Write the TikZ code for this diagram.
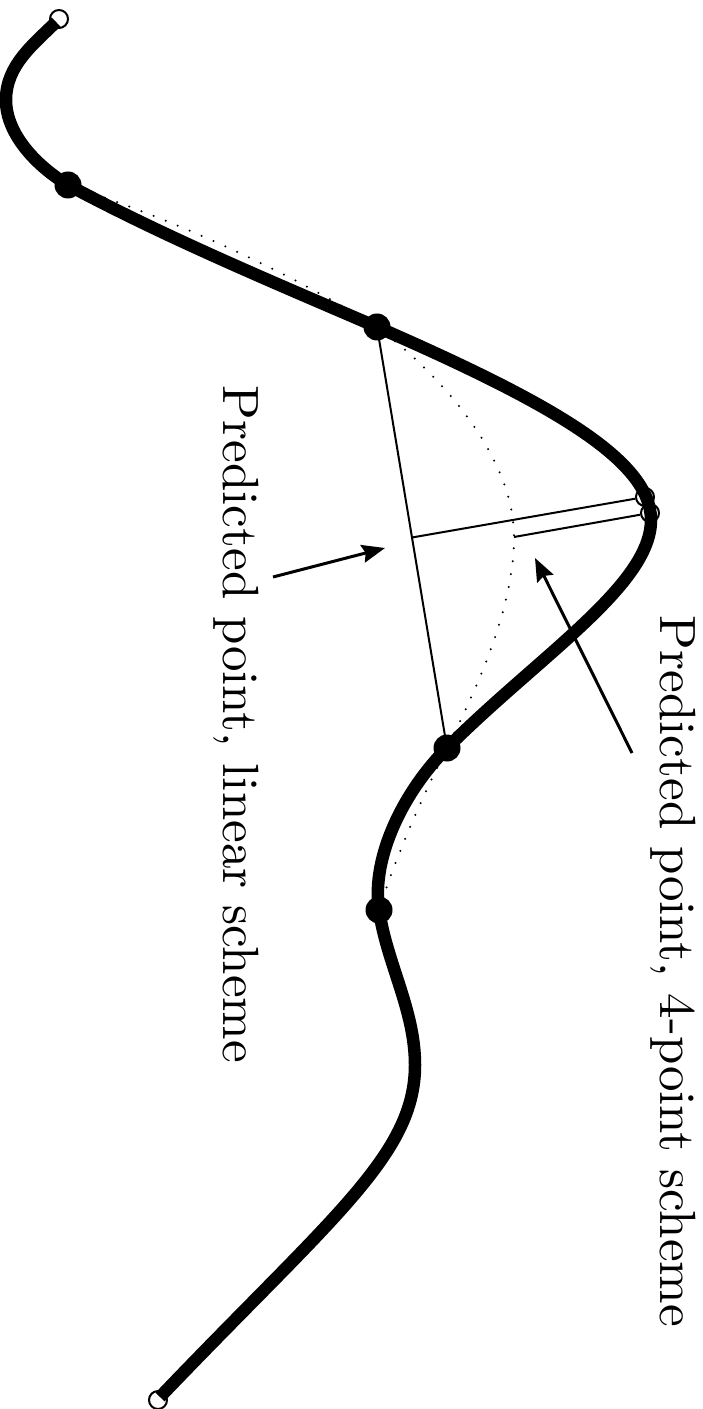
\documentclass[tikz,border=0pt]{standalone}
\usetikzlibrary{arrows.meta}
\begin{document}
\begin{tikzpicture}[x=0.2pt,y=-0.2pt,
  curve/.style={line width=2.5pt, line cap=butt, line join=round},
  thinline/.style={line width=0.4pt},
  dotline/.style={line width=0.45pt, dash pattern=on 0pt off 2.6pt, line cap=round},
  filled/.style={circle, fill=black, inner sep=0pt, minimum size=5.4pt},
  opencirc/.style={circle, draw=black, line width=0.4pt, inner sep=0pt, minimum size=3.6pt},
  pointer/.style={line width=0.6pt, -{Stealth[length=4.6pt,width=3.6pt,inset=0.6pt]}},
  lbl/.style={rotate=-90, anchor=base west, inner sep=0pt, font=\fontsize{10.2}{12}\selectfont}
]
\useasboundingbox (0,0) rectangle (703,1409);
\coordinate (s) at (56,22);
\coordinate (L) at (6,100);
\coordinate (d1) at (68,185);
\coordinate (d2) at (377,327);
\coordinate (P) at (651,520);
\coordinate (d3) at (447,748);
\coordinate (d4) at (379,910);
\coordinate (R) at (415,1065);
\coordinate (e) at (160,1397);
\coordinate (q) at (514,537);
% thick curve
\draw[curve] (s) .. controls (34,44) and (6,65) .. (L)
  .. controls (6,135) and (38,167) .. (d1)
  .. controls (167,238) and (275,283) .. (d2)
  .. controls (551,403) and (651,460) .. (P)
  .. controls (651,585) and (539,656) .. (d3)
  .. controls (405,790) and (371,856) .. (d4)
  .. controls (387,964) and (415,1010) .. (R)
  .. controls (415,1155) and (332,1217) .. (e);
% dotted interpolated curve
\draw[dotline] (d1) .. controls (172,219) and (284,269) .. (d2)
  .. controls (441,375) and (514,457) .. (q)
  .. controls (514,607) and (478,686) .. (d3)
  .. controls (420,801) and (394,862) .. (d4);
% nodes
\node[filled] (n1) at (d1) {};
\node[filled] (n2) at (d2) {};
\node[filled] (n3) at (d3) {};
\node[filled] (n4) at (d4) {};
\node[opencirc] (c0) at (59,19) {};
\node[opencirc] (c1) at (645,497) {};
\node[opencirc] (c2) at (650,513) {};
\node[opencirc] (c5) at (158,1400) {};
\coordinate (m) at (412,537.5);
\draw[thinline] (n2.center) -- (n3.center);
\draw[thinline] (m) -- (c1);
\draw[thinline] (q) -- (c2);
% arrows
\coordinate (a1s) at (273,577);
\coordinate (a1e) at (385,548);
\coordinate (a2s) at (632,753);
\coordinate (a2e) at (535,558);
\draw[pointer] (a1s) -- (a1e);
\draw[pointer] (a2s) -- (a2e);
% labels
\node[lbl] (L1) at (223,385) {Predicted point, linear scheme};
\node[lbl] (L2) at (660,615) {Predicted point, 4-point scheme};
\end{tikzpicture}
\end{document}
